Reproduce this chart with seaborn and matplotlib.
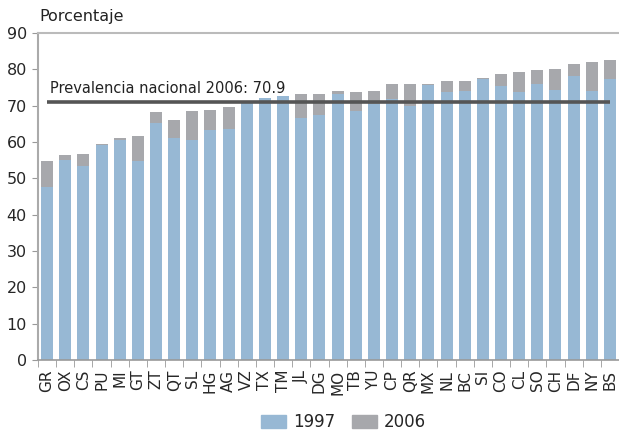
import matplotlib
matplotlib.use("Agg")
import matplotlib.pyplot as plt
from matplotlib.patches import Patch
from matplotlib.ticker import FixedLocator
import numpy as np
import seaborn as sns

# state codes, ordered by 2006 prevalence
states = ['GR', 'OX', 'CS', 'PU', 'MI', 'GT', 'ZT', 'QT', 'SL', 'HG', 'AG',
          'VZ', 'TX', 'TM', 'JL', 'DG', 'MO', 'TB', 'YU', 'CP', 'QR', 'MX',
          'NL', 'BC', 'SI', 'CO', 'CL', 'SO', 'CH', 'DF', 'NY', 'BS']

values_1997 = [47.5, 55.1, 53.4, 59.2, 60.7, 54.8, 65.2, 61.2, 60.6, 63.4, 63.6,
               70.7, 72.1, 72.6, 66.7, 67.4, 73.2, 68.5, 70.6, 71.8, 70.0, 75.7,
               73.8, 74.0, 77.3, 75.4, 73.8, 76.0, 74.3, 78.2, 74.0, 77.3]

values_2006 = [54.8, 56.3, 56.7, 59.5, 61.1, 61.7, 68.3, 66.0, 68.5, 68.8, 69.6,
               71.0, 72.1, 72.7, 73.2, 73.2, 74.0, 73.8, 74.0, 76.0, 76.0, 76.0,
               76.8, 76.8, 77.6, 78.7, 79.3, 79.8, 80.1, 81.5, 82.0, 82.6]

national_2006 = 70.9
y_ticks = [0, 10, 20, 30, 40, 50, 60, 70, 80, 90]

blue = '#97b8d4'
grey = '#a7a8ac'

sns.set_style('white')
plt.rcParams['font.family'] = ['DejaVu Sans']

fig = plt.figure(figsize=(6.19, 4.41), dpi=100)
ax = fig.add_axes([0.0614, 0.1837, 0.9386, 0.7413])

sns.barplot(x=states, y=values_2006, color=grey, saturation=1, width=0.66,
            linewidth=0, ax=ax)
sns.barplot(x=states, y=values_1997, color=blue, saturation=1, width=0.66,
            linewidth=0, ax=ax)

ax.hlines(national_2006, 0, len(states) - 1, color='#555555', linewidth=2.6, zorder=5)
ax.text(0.15, 73.6, 'Prevalencia nacional 2006: 70.9', fontsize=10.5, color='#222222')

ax.set_ylim(0, 90)
ax.set_xlim(-0.5, len(states) - 0.5)
ax.set_yticks(y_ticks)
ax.tick_params(axis='y', labelsize=11.5, length=4, color='#999999', pad=4, left=True)
ax.tick_params(axis='x', which='major', labelsize=11, length=0, rotation=90, pad=7)
ax.xaxis.set_minor_locator(FixedLocator(np.arange(-0.5, len(states), 1.0)))
ax.tick_params(axis='x', which='minor', length=5, color='#999999', bottom=True)

ax.spines['right'].set_visible(False)
ax.spines['top'].set_color('#bbbbbb')
ax.spines['top'].set_linewidth(1.5)
ax.spines['left'].set_color('#aaaaaa')
ax.spines['left'].set_linewidth(1.5)
ax.spines['bottom'].set_color('#999999')
ax.spines['bottom'].set_linewidth(1.2)

fig.text(0.063, 0.952, 'Porcentaje', fontsize=11.5, color='#222222')

handles = [Patch(color=blue, label='1997'), Patch(color=grey, label='2006')]
fig.legend(handles=handles, loc='lower center', bbox_to_anchor=(0.555, -0.012), ncol=2,
           frameon=False, fontsize=12, handlelength=1.5, handleheight=0.8,
           handletextpad=0.4, columnspacing=1.0)

fig.savefig('out.png', dpi=100)
